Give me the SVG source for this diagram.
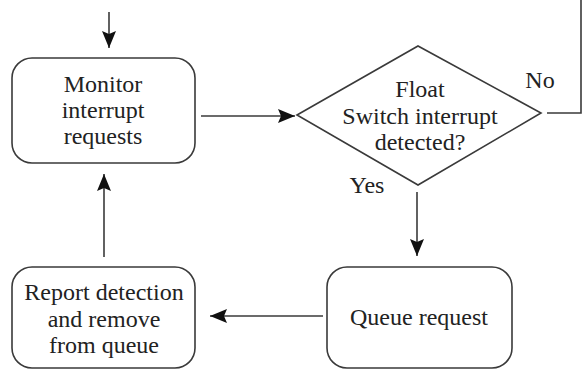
<svg xmlns="http://www.w3.org/2000/svg" width="582" height="370" viewBox="0 0 582 370">
<defs>
<style>
.box{fill:#fff;stroke:#3a3a3a;stroke-width:1.6}
.ln{fill:none;stroke:#3a3a3a;stroke-width:1.6}
text{font-family:'Liberation Serif','Times New Roman',serif;font-size:24px;fill:#222;text-anchor:middle}
</style>
<marker id="ah" markerUnits="userSpaceOnUse" markerWidth="18" markerHeight="14" refX="17" refY="7" orient="auto">
<path d="M0,0 L17,7 L0,14 L3,7 z" fill="#111"/>
</marker>
</defs>
<rect width="582" height="370" fill="#fff"/>
<g id="connectors">
<line class="ln" x1="109" y1="12" x2="109" y2="48" marker-end="url(#ah)"/>
<line class="ln" x1="201" y1="116" x2="295" y2="116" marker-end="url(#ah)"/>
<polyline class="ln" points="547,113 581,113 581,0"/>
<line class="ln" x1="417" y1="192" x2="417" y2="256" marker-end="url(#ah)"/>
<line class="ln" x1="323" y1="316" x2="210" y2="316" marker-end="url(#ah)"/>
<line class="ln" x1="104" y1="257" x2="104" y2="174" marker-end="url(#ah)"/>
</g>
<g id="monitor">
<rect class="box" x="12" y="58" width="183" height="105" rx="20"/>
<text x="103" y="92">Monitor</text>
<text x="103" y="118">interrupt</text>
<text x="103" y="144">requests</text>
</g>
<g id="decision">
<polygon class="box" points="297,115 418,46 541,113 418,185"/>
<text x="420" y="97">Float</text>
<text x="420" y="124">Switch interrupt</text>
<text x="420" y="150">detected?</text>
</g>
<g id="no-label"><text x="540" y="88">No</text></g>
<g id="yes-label"><text x="367" y="193">Yes</text></g>
<g id="queue">
<rect class="box" x="327" y="267" width="185" height="101" rx="20"/>
<text x="419" y="325">Queue request</text>
</g>
<g id="report">
<rect class="box" x="12" y="267" width="183" height="101" rx="20"/>
<text x="104" y="300">Report detection</text>
<text x="104" y="327">and remove</text>
<text x="104" y="353">from queue</text>
</g>
</svg>
